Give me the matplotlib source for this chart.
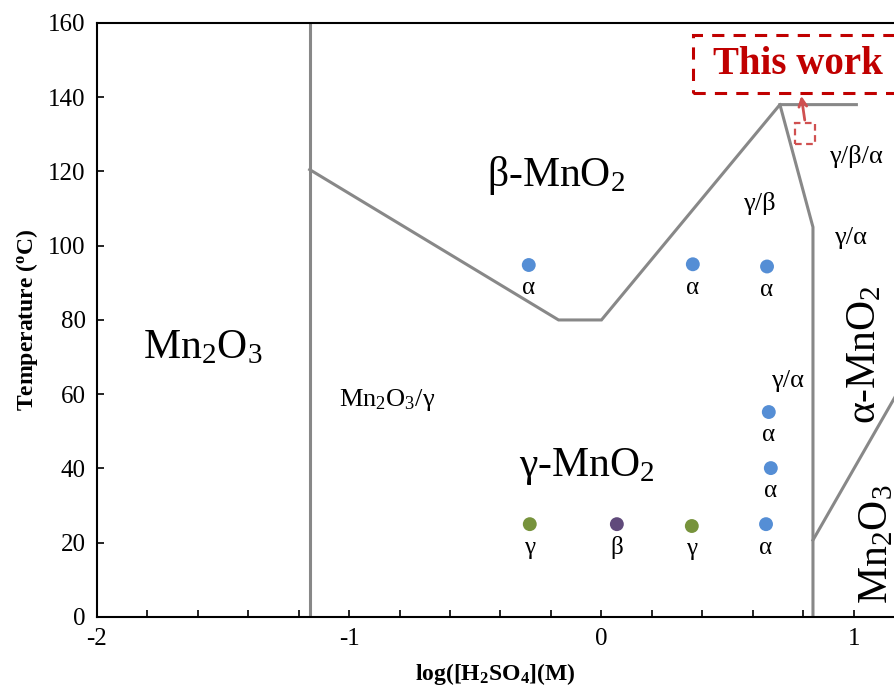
import numpy as np
import matplotlib
matplotlib.use("Agg")
import matplotlib.pyplot as plt
from matplotlib.patches import Rectangle

plt.rcParams['font.family'] = ['Liberation Serif', 'DejaVu Serif']
plt.rcParams['mathtext.fontset'] = 'custom'
plt.rcParams['mathtext.rm'] = 'Liberation Serif'
plt.rcParams['mathtext.it'] = 'Liberation Serif:italic'
plt.rcParams['mathtext.bf'] = 'Liberation Serif:bold'
plt.rcParams['axes.unicode_minus'] = False

# phase boundaries (log[H2SO4], T)
left_vert_x = [-1.156, -1.156]
left_vert_y = [0, 160]
beta_low_x = [-1.156, -0.17, 0.0, 0.707, 1.01]
beta_low_y = [120.5, 80, 80, 138, 138]
right_x = [0.707, 0.838, 0.838]
right_y = [138, 105, 0]
mn2o3_x = [0.838, 1.30]
mn2o3_y = [20.7, 75.5]

# experimental points
pt_x = [-0.288, 0.362, 0.656, 0.663, 0.671, 0.652, -0.284, 0.061, 0.358]
pt_y = [94.8, 95.0, 94.4, 55.2, 40.1, 25.0, 25.0, 25.0, 24.5]
pt_phase = ['α', 'α', 'α', 'α', 'α', 'α', 'γ', 'β', 'γ']
phase_color = {'α': '#558ED5', 'β': '#604A7B', 'γ': '#77933C'}

fig = plt.figure(figsize=(8.95, 6.93), dpi=100)
ax = fig.add_axes([0.108, 0.1097, 0.892, 0.8572])

line_kw = dict(color='#888888', lw=2.2, solid_joinstyle='miter')
ax.plot(left_vert_x, left_vert_y, **line_kw)
ax.plot(beta_low_x, beta_low_y, **line_kw)
ax.plot(right_x, right_y, **line_kw)
ax.plot(mn2o3_x, mn2o3_y, **line_kw)

for x, y, p in zip(pt_x, pt_y, pt_phase):
    ax.scatter(x, y, s=100, color=phase_color[p], zorder=3, edgecolors='none')
    ax.text(x, y - 6.3, p, ha='center', va='center', fontsize=18)

# region labels
big = 30
ax.text(-0.18, 119, 'β-MnO$_2$', ha='center', va='center', fontsize=big)
ax.text(-1.58, 72.5, 'Mn$_2$O$_3$', ha='center', va='center', fontsize=big)
ax.text(-0.06, 40.5, 'γ-MnO$_2$', ha='center', va='center', fontsize=big)
ax.text(1.044, 70.6, 'α-MnO$_2$', ha='center', va='center', fontsize=big,
        rotation=90)
ax.text(1.09, 19.5, 'Mn$_2$O$_3$', ha='center', va='center', fontsize=big,
        rotation=90)
small = 19
ax.text(-0.85, 58.5, 'Mn$_2$O$_3$/γ', ha='center', va='center', fontsize=small)
ax.text(0.624, 111.5, 'γ/β', ha='center', va='center', fontsize=small)
ax.text(1.008, 124.0, 'γ/β/α', ha='center', va='center', fontsize=small)
ax.text(0.988, 102.0, 'γ/α', ha='center', va='center', fontsize=small)
ax.text(0.735, 63.6, 'γ/α', ha='center', va='center', fontsize=small)

# "This work" marker
ax.add_patch(Rectangle((0.362, 141.1), 0.85, 15.7, fill=False,
                       edgecolor='#C00000', lw=2.2, ls=(0, (4, 3))))
ax.text(0.778, 148.8, 'This work', ha='center', va='center', fontsize=28,
        fontweight='bold', color='#C00000')
ax.add_patch(Rectangle((0.767, 127.5), 0.08, 5.6, fill=False,
                       edgecolor='#D05050', lw=1.6, ls=(0, (3, 2))))
ax.annotate('', xy=(0.79, 141.1), xytext=(0.807, 133.1),
            arrowprops=dict(arrowstyle='->', color='#D05050', lw=2,
                            mutation_scale=14))

ax.set_xlim(-2, 1.163)
ax.set_ylim(0, 160)
ax.set_xticks([-2, -1, 0, 1])
ax.set_xticks(np.arange(-2, 1.2, 0.2), minor=True)
ax.set_yticks(np.arange(0, 161, 20))
ax.tick_params(direction='in', labelsize=18, length=5, width=1.2, pad=8)
ax.tick_params(which='minor', direction='in', length=5, width=1.2)
ax.spines['right'].set_visible(False)
for s in ['left', 'bottom', 'top']:
    ax.spines[s].set_linewidth(1.5)

ax.set_xlabel('log([H$_\\mathbf{2}$SO$_\\mathbf{4}$](M)', fontsize=17,
              fontweight='bold', labelpad=8)
ax.set_ylabel('Temperature ($^\\mathbf{o}$C)', fontsize=17,
              fontweight='bold', labelpad=6)

fig.savefig('out.png', dpi=100)
